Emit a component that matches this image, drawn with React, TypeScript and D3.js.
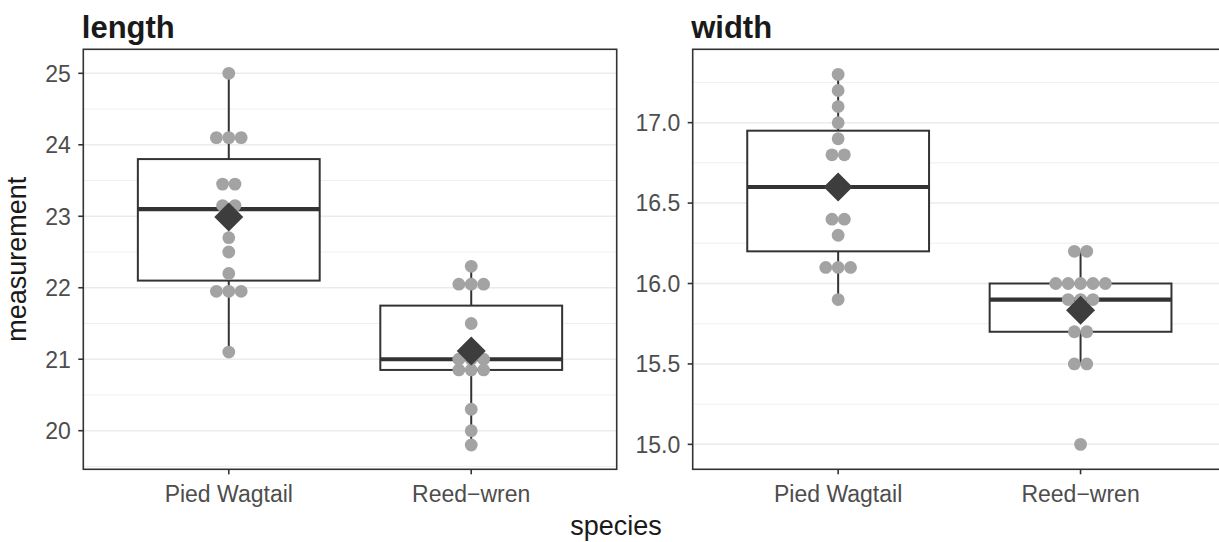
import React from 'react';
import * as d3 from 'd3';

const speciesNames = ['Pied Wagtail', 'Reed\u2212wren'];

const lengthPied = [25.0, 24.1, 24.1, 24.1, 23.45, 23.45, 23.15, 23.15, 22.7, 22.5, 22.2, 21.95, 21.95, 21.95, 21.1];
const lengthReed = [22.3, 22.05, 22.05, 22.05, 21.5, 21.0, 21.0, 21.0, 20.85, 20.85, 20.85, 20.3, 20.0, 19.8];
const widthPied = [17.3, 17.2, 17.1, 17.0, 16.9, 16.8, 16.8, 16.4, 16.4, 16.3, 16.1, 16.1, 16.1, 15.9];
const widthReed = [16.2, 16.2, 16.0, 16.0, 16.0, 16.0, 16.0, 15.9, 15.9, 15.9, 15.7, 15.7, 15.5, 15.5, 15.0];

// box stats: [whiskerLow, q1, median, q3, whiskerHigh]
const lengthBoxPied = [21.1, 22.1, 23.1, 23.8, 25.0];
const lengthBoxReed = [19.8, 20.85, 21.0, 21.75, 22.3];
const widthBoxPied = [15.9, 16.2, 16.6, 16.95, 17.3];
const widthBoxReed = [15.5, 15.7, 15.9, 16.0, 16.2];

const lengthTicks = [20, 21, 22, 23, 24, 25];
const widthTicks = [15.0, 15.5, 16.0, 16.5, 17.0];

const W = 1219, H = 542;
const TOP = 49.3, BOTTOM = 469.3;

type Panel = {
  title: string;
  x0: number; x1: number;
  domain: [number, number];
  ticks: number[];
  minor: number[];
  fmt: (v: number) => string;
  dots: number[][];
  boxes: number[][];
};

const panels: Panel[] = [
  {
    title: 'length', x0: 83.3, x1: 616.7, domain: [19.46, 25.336],
    ticks: lengthTicks, minor: [19.5, 20.5, 21.5, 22.5, 23.5, 24.5],
    fmt: d3.format('d'), dots: [lengthPied, lengthReed], boxes: [lengthBoxPied, lengthBoxReed],
  },
  {
    title: 'width', x0: 692.7, x1: 1226, domain: [14.845, 17.456],
    ticks: widthTicks, minor: [15.25, 15.75, 16.25, 16.75, 17.25],
    fmt: d3.format('.1f'), dots: [widthPied, widthReed], boxes: [widthBoxPied, widthBoxReed],
  },
];

const FONT = '"Liberation Sans", Arial, Helvetica, sans-serif';
const DOT_R = 6.4;
const DOT_STEP = 12.4;
const TICK_FS = 23;
const AXIS_FS = 27;
const TITLE_FS = 31;

function PanelView({ p }: { p: Panel }) {
  const x = d3.scalePoint<string>().domain(speciesNames).range([p.x0, p.x1]).padding(0.6);
  const unit = x.step();
  const y = d3.scaleLinear().domain(p.domain).range([BOTTOM, TOP]);
  const boxW = unit * 0.75;
  return (
    <g>
      <rect x={p.x0} y={TOP} width={p.x1 - p.x0} height={BOTTOM - TOP} fill="white" />
      {p.minor.map((v) => (
        <line key={'mi' + v} x1={p.x0} x2={p.x1} y1={y(v)} y2={y(v)} stroke="#ebebeb" strokeWidth={0.8} />
      ))}
      {p.ticks.map((v) => (
        <line key={'ma' + v} x1={p.x0} x2={p.x1} y1={y(v)} y2={y(v)} stroke="#ebebeb" strokeWidth={1.5} />
      ))}
      {speciesNames.map((s, i) => {
        const cx = x(s)!;
        const [lo, q1, med, q3, hi] = p.boxes[i];
        return (
          <g key={'b' + s}>
            <line x1={cx} x2={cx} y1={y(hi)} y2={y(q3)} stroke="#333333" strokeWidth={2} />
            <line x1={cx} x2={cx} y1={y(q1)} y2={y(lo)} stroke="#333333" strokeWidth={2} />
            <rect x={cx - boxW / 2} y={y(q3)} width={boxW} height={y(q1) - y(q3)} fill="white" stroke="#333333" strokeWidth={2} />
            <line x1={cx - boxW / 2} x2={cx + boxW / 2} y1={y(med)} y2={y(med)} stroke="#333333" strokeWidth={4.2} />
          </g>
        );
      })}
      {speciesNames.map((s, i) => {
        const cx = x(s)!;
        const groups = d3.groups(p.dots[i], (v) => v);
        return (
          <g key={'d' + s}>
            {groups.flatMap(([v, arr]) =>
              arr.map((_, k) => (
                <circle key={v + '-' + k} cx={cx + (k - (arr.length - 1) / 2) * DOT_STEP} cy={y(v)} r={DOT_R} fill="#a3a3a3" />
              ))
            )}
          </g>
        );
      })}
      {speciesNames.map((s, i) => {
        const cx = x(s)!;
        const m = d3.mean(p.dots[i])!;
        const d = 14.5;
        const cy = y(m);
        return (
          <path key={'m' + s} d={`M${cx},${cy - d}L${cx + d},${cy}L${cx},${cy + d}L${cx - d},${cy}Z`} fill="#3d3d3d" />
        );
      })}
      <rect x={p.x0} y={TOP} width={p.x1 - p.x0} height={BOTTOM - TOP} fill="none" stroke="#333333" strokeWidth={1.6} />
      {p.ticks.map((v) => (
        <g key={'t' + v}>
          <line x1={p.x0 - 5} x2={p.x0} y1={y(v)} y2={y(v)} stroke="#333333" strokeWidth={1.6} />
          <text x={p.x0 - 12.5} y={y(v)} dy="0.36em" textAnchor="end" fontFamily={FONT} fontSize={TICK_FS} fill="#4d4d4d">{p.fmt(v)}</text>
        </g>
      ))}
      {speciesNames.map((s) => (
        <g key={'xt' + s}>
          <line x1={x(s)!} x2={x(s)!} y1={BOTTOM} y2={BOTTOM + 5} stroke="#333333" strokeWidth={1.6} />
          <text x={x(s)!} y={BOTTOM + 32.5} textAnchor="middle" fontFamily={FONT} fontSize={TICK_FS} fill="#4d4d4d">{s}</text>
        </g>
      ))}
      <text x={p.x0 - 1.5} y={38} fontFamily={FONT} fontWeight="bold" fontSize={TITLE_FS} fill="#1a1a1a">{p.title}</text>
    </g>
  );
}

export default function App() {
  return (
    <div style={{ position: 'absolute', left: 0, top: 0 }}>
      <svg width={W} height={H} style={{ display: 'block', background: 'white' }}>
        {panels.map((p) => <PanelView key={p.title} p={p} />)}
        <text x={616} y={535} textAnchor="middle" fontFamily={FONT} fontSize={AXIS_FS} fill="#1a1a1a">species</text>
        <text transform={`translate(26,${(TOP + BOTTOM) / 2}) rotate(-90)`} textAnchor="middle" fontFamily={FONT} fontSize={AXIS_FS} fill="#1a1a1a">measurement</text>
      </svg>
    </div>
  );
}
